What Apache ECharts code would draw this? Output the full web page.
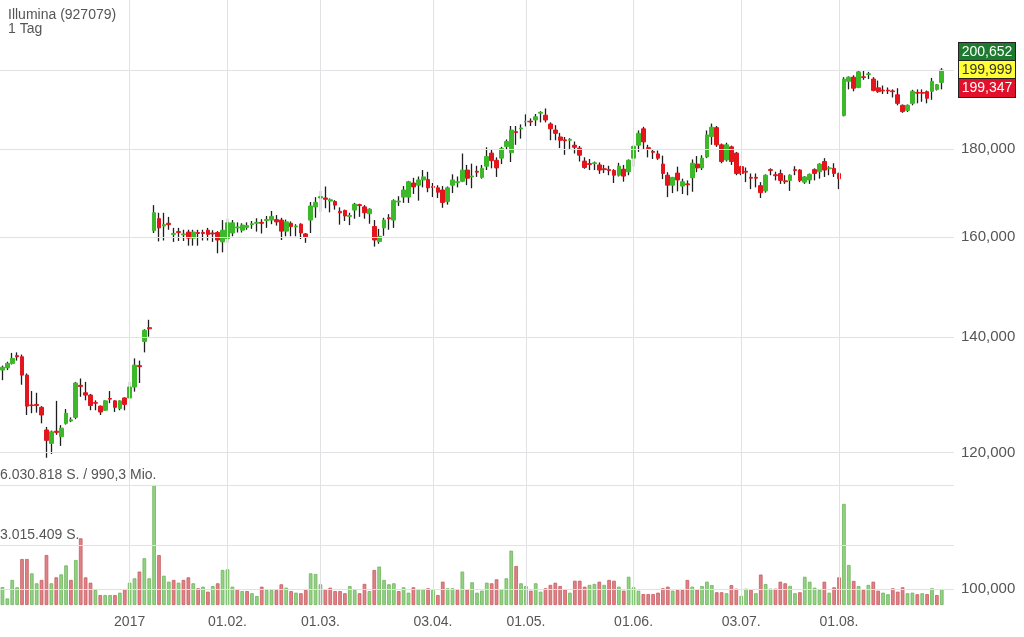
<!DOCTYPE html>
<html><head><meta charset="utf-8">
<script src="https://cdn.jsdelivr.net/npm/echarts/dist/echarts.min.js"></script>
<style>html,body{margin:0;padding:0;background:#fff}#c{width:1024px;height:637px}</style>
</head><body><div id="c"></div>
<script>
// ---- data ----
const titleText = 'Illumina (927079)';
const periodText = '1 Tag';
const openP = [134.0,134.4,135.2,136.6,136.4,133.1,127.9,128.0,127.5,123.7,121.5,123.5,122.6,124.8,125.2,125.8,131.3,130.0,129.6,128.3,127.7,127.0,129.0,128.6,127.3,129.1,129.1,131.0,134.8,139.2,141.8,
161.4,164.0,162.4,163.0,160.6,161.2,160.5,161.1,159.8,161.0,161.0,161.5,160.9,161.0,159.0,159.7,160.9,162.0,161.5,162.1,162.7,163.0,163.2,163.6,163.7,163.8,163.7,161.3,163.0,162.2,162.8,160.7,
163.7,166.6,168.6,168.6,167.9,167.8,165.6,165.8,164.5,165.9,167.1,166.6,165.1,162.3,159.1,162.0,164.2,163.7,167.7,168.8,168.8,172.0,171.5,172.7,172.8,171.2,170.9,170.4,167.8,171.5,172.1,172.4,175.0,173.4,174.7,
173.3,175.9,179.0,177.3,177.8,180.6,179.1,184.2,184.9,186.6,186.8,187.1,188.8,188.3,186.1,184.6,182.9,182.2,182.1,180.9,180.2,177.1,176.5,176.5,176.2,175.3,175.1,174.9,173.8,175.2,174.6,
177.8,180.9,184.9,180.3,179.4,178.8,176.4,173.8,171.5,174.3,171.3,171.8,173.2,176.4,175.5,178.1,183.0,185.2,181.0,177.4,180.5,179.0,175.8,174.7,173.3,173.3,171.4,170.2,175.1,173.9,174.2,172.5,172.6,175.1,175.0,172.2,172.7,175.1,174.6,177.0,175.3,175.4,174.2,
188.2,197.0,198.1,195.4,198.2,198.8,197.6,195.3,194.7,194.7,194.5,193.5,190.8,189.5,191.3,194.1,194.1,194.3,194.4,194.9,196.7];
const closeP = [134.5,135.2,136.1,136.4,133.1,127.7,127.8,127.8,126.2,122.0,123.4,123.3,124.0,126.5,125.4,131.7,131.1,129.6,127.8,128.2,126.7,128.6,128.9,127.5,128.6,128.0,131.0,134.9,134.6,141.3,141.6,
165.3,162.0,162.7,162.7,160.8,161.0,160.7,159.8,161.1,160.8,160.8,160.6,160.7,159.4,161.5,163.1,163.1,162.2,162.6,162.5,162.9,163.2,163.0,163.8,164.5,163.3,161.3,163.3,162.3,162.4,160.9,160.1,
166.8,167.6,168.9,168.3,168.2,167.0,165.3,164.6,164.7,167.2,166.9,165.3,166.1,159.4,160.2,163.7,164.0,168.0,167.9,170.4,172.3,171.1,172.7,173.4,170.9,171.0,169.9,167.6,170.9,172.7,172.3,175.0,173.1,173.6,174.5,
175.4,178.2,177.2,175.5,180.1,181.8,184.6,184.0,185.1,186.8,186.6,187.9,189.0,187.1,184.9,183.8,182.1,182.0,182.3,180.4,178.5,175.6,176.3,176.7,175.0,175.1,174.9,173.8,175.9,173.6,177.3,
180.6,183.8,181.7,180.1,179.2,177.8,174.2,171.5,173.3,172.7,172.3,171.6,176.6,175.5,177.8,183.4,185.3,181.0,177.0,181.0,177.0,174.2,174.2,174.5,173.1,173.1,169.8,173.8,174.9,173.7,172.6,172.3,173.8,174.9,172.6,173.4,174.0,174.2,176.4,175.0,175.5,174.2,173.0,
197.6,198.1,195.2,199.5,198.0,199.0,194.6,194.3,194.5,194.5,194.3,191.3,189.2,190.8,194.4,193.9,193.9,192.6,197.0,196.1,199.999];
const lowP = [132.2,134.0,135.0,135.7,131.4,126.2,126.5,126.6,124.8,119.2,119.8,122.9,121.1,124.6,125.0,125.5,129.3,128.7,127.0,127.0,126.2,126.9,128.2,126.7,127.0,127.0,129.0,130.2,131.7,137.2,140.1,
160.9,159.1,159.3,161.6,159.0,159.2,159.2,158.2,158.2,158.2,159.3,159.3,159.0,156.6,156.8,158.8,160.2,161.0,161.0,161.6,161.8,161.2,160.8,162.0,162.8,162.5,159.4,160.2,160.2,160.2,159.6,158.8,
160.9,164.2,165.5,166.3,165.4,166.0,162.7,163.5,162.6,164.0,164.4,164.0,162.9,158.0,158.6,160.3,161.6,162.0,166.8,167.5,167.5,169.5,168.0,171.0,169.9,168.8,168.6,166.4,167.1,169.7,171.0,172.2,171.5,170.8,173.4,
173.0,175.0,175.4,173.4,176.4,179.9,176.9,181.0,182.5,185.5,185.6,185.6,186.5,186.5,182.1,182.1,180.2,178.6,180.0,178.9,177.0,175.3,175.0,175.0,174.1,174.3,173.8,172.0,173.5,172.3,173.8,
175.8,179.3,180.0,178.0,177.6,177.4,172.9,168.8,169.7,170.1,169.5,169.2,170.0,174.5,175.0,177.8,181.0,180.5,176.6,177.0,176.2,173.8,173.8,172.2,170.6,171.0,168.6,169.8,173.8,172.6,171.8,171.8,170.2,173.8,172.2,171.8,171.8,172.6,173.0,173.4,173.8,173.4,170.6,
188.0,194.9,194.4,195.2,197.4,197.6,194.4,194.0,193.7,193.7,192.8,190.8,188.9,189.1,190.8,191.3,191.7,191.3,192.2,194.6,194.9];
const highP = [134.8,135.5,137.1,137.2,136.8,133.4,130.3,130.0,127.7,124.2,123.6,128.6,124.5,127.2,125.8,131.9,132.5,131.9,129.8,128.7,127.8,128.7,130.3,128.7,128.7,129.2,131.9,136.1,135.7,141.5,143.3,
167.0,165.3,165.3,164.4,162.0,162.0,161.6,161.6,161.6,161.6,161.6,162.0,161.5,161.3,163.7,164.0,163.7,163.2,163.0,163.2,163.5,164.1,163.9,164.6,165.7,164.8,164.2,163.8,163.4,162.8,163.0,160.9,
167.7,168.8,170.2,171.2,168.5,168.1,166.5,166.0,165.3,167.5,167.3,167.0,166.3,163.7,161.8,164.2,165.0,168.3,169.0,171.3,172.5,173.2,173.5,175.0,174.6,172.0,171.5,171.3,171.2,174.0,173.5,178.9,176.2,176.5,176.0,
176.2,180.4,179.9,178.0,180.5,182.3,185.6,185.6,186.0,188.5,187.5,188.6,189.3,190.0,186.5,185.8,183.9,182.9,182.6,181.8,180.7,178.0,177.6,177.0,176.8,176.2,176.0,175.2,176.7,176.2,177.5,
181.0,184.5,185.4,181.0,180.0,179.6,178.4,174.5,173.4,175.8,173.0,172.6,177.5,178.3,178.5,184.5,186.2,185.6,181.3,181.5,180.8,179.3,176.0,175.6,174.2,174.2,172.2,174.0,175.4,174.6,175.1,173.8,174.0,175.9,175.2,173.6,174.2,175.4,176.6,177.8,175.9,176.6,174.4,
198.1,198.3,198.6,199.9,199.8,199.5,198.1,197.2,195.9,195.4,194.9,195.2,191.0,191.0,194.8,194.9,194.9,194.6,197.9,196.3,200.5];
// volume in million shares
const volumeM = [0.9,0.33,1.26,0.89,2.31,2.31,1.59,1.09,1.26,2.51,1.09,1.39,1.54,1.99,1.26,2.26,3.35,1.39,1.12,0.75,0.50,0.50,0.50,0.50,0.62,0.80,1.12,1.34,1.68,2.35,1.34,
6.03,2.51,1.47,1.17,1.26,1.12,1.26,1.39,1.09,0.84,0.92,0.67,0.95,1.09,1.76,1.79,0.92,0.80,
0.70,0.70,0.59,0.45,0.92,0.75,0.75,0.75,1.04,0.87,0.70,0.62,0.59,0.75,1.59,1.56,1.04,0.80,0.87,0.70,0.70,0.59,0.95,0.75,0.59,1.06,0.70,1.76,1.93,1.26,1.04,1.09,0.70,0.89,0.62,0.89,0.79,0.79,0.84,0.75,0.50,1.17,0.84,0.84,0.75,1.68,0.79,1.14,0.62,
0.72,1.12,1.09,1.29,0.79,1.34,2.73,1.96,1.09,0.95,0.72,1.09,0.67,0.84,1.01,1.12,0.95,0.79,0.62,1.22,1.22,0.92,1.01,1.06,1.17,1.01,1.26,1.22,0.92,0.72,1.42,0.89,0.72,0.55,0.55,0.55,0.62,0.84,0.92,0.72,0.75,0.75,1.26,0.92,0.79,0.95,1.17,1.0,
0.64,0.64,0.59,1.0,0.82,0.46,0.82,0.76,0.59,1.53,1.05,0.82,0.82,1.17,1.09,0.96,0.59,
0.64,1.42,1.17,0.87,0.75,1.17,0.62,0.89,1.39,5.08,2.01,1.21,0.95,0.75,1.01,1.17,0.72,0.62,0.54,0.84,0.67,0.89,0.59,0.62,0.54,0.59,0.55,0.84,0.50,0.80];
const tickIndex = [26, 46, 65, 88, 107, 129, 151, 171];
const tickLabels = ['2017', '01.02.', '01.03.', '03.04.', '01.05.', '01.06.', '03.07.', '01.08.'];
const priceLines = [100, 120, 140, 160, 180, 200];
const volLines = [3.015409, 6.030818];
const volLineLabels = ['3.015.409 S.', '6.030.818 S. / 990,3 Mio.'];
const quoteAsk = 200.652;
const quoteBid = 199.347;
const emptySlots = 2;

// ---- chart ----
const GREEN = '#3db82a', RED = '#e3151d', WICK = '#1e1e1e';
const VGREEN = '#93d183', VGREEN_B = '#6db45c', VRED = '#df8286', VRED_B = '#c65c61';
const GRID = '#e1e1e6', TXT = '#555', FONT = '"Liberation Sans", Arial, sans-serif';
const n = closeP.length;
const cats = Array.from({length: n + emptySlots}, (_, i) => String(i));
const fmt = v => v.toFixed(3).replace('.', ',');
const lastClose = closeP[n - 1];

const wickData = openP.map((o, i) => { const m = (o + closeP[i]) / 2; return [m, m, lowP[i], highP[i]]; });
const bodyData = openP.map((o, i) => [o, closeP[i], Math.min(o, closeP[i]), Math.max(o, closeP[i])]);
const volData = volumeM.map((v, i) => {
  const up = i === 0 ? true : closeP[i] >= closeP[i - 1];
  return { value: v, itemStyle: { color: up ? VGREEN : VRED, borderColor: up ? VGREEN_B : VRED_B, borderWidth: 0.8 } };
});
const boxStyle = (bg, fg) => ({backgroundColor: bg, color: fg, width: 56, height: 18, lineHeight: 18, align: 'center',
  fontSize: 14, borderColor: '#222', borderWidth: 1, fontFamily: FONT});

const chart = echarts.init(document.getElementById('c'), null, {renderer: 'canvas'});
chart.setOption({
  animation: false,
  textStyle: {fontFamily: FONT},
  title: {
    text: titleText + '\n' + periodText, left: 3, top: 3,
    textStyle: {fontSize: 14, fontWeight: 'normal', color: TXT, lineHeight: 14, fontFamily: FONT}
  },
  grid: [
    {left: -2, right: 70, top: 0, bottom: 32},
    {left: -2, right: 70, top: 485, bottom: 32}
  ],
  xAxis: [
    {type: 'category', gridIndex: 0, data: cats, boundaryGap: true,
      axisLine: {show: false}, axisTick: {show: false}, splitLine: {show: false},
      axisLabel: {interval: (idx) => tickIndex.includes(idx), formatter: (v, idx) => tickLabels[tickIndex.indexOf(+v)] || '',
        color: TXT, fontSize: 14, margin: 10, fontFamily: FONT}},
    {type: 'category', gridIndex: 1, data: cats, boundaryGap: true, show: false}
  ],
  yAxis: [
    {type: 'log', logBase: 10, gridIndex: 0, min: 97.93, max: 219.59, show: false, splitLine: {show: false}},
    {type: 'value', gridIndex: 1, min: 0, max: volLines[1], show: false, splitLine: {show: false}}
  ],
  series: [
    {
      name: 'Volumen', type: 'bar', xAxisIndex: 1, yAxisIndex: 1, data: volData, barWidth: 3.6, silent: true,
      markLine: {
        silent: true, symbol: ['none', 'none'],
        lineStyle: {color: GRID, width: 1, type: 'solid'},
        data: volLines.map((v, k) => ({yAxis: v,
          label: {show: true, position: 'insideStartTop', formatter: volLineLabels[k], color: TXT, fontSize: 14, fontFamily: FONT, distance: [0, 3]}}))
      }
    },
    {
      name: 'Docht', type: 'candlestick', xAxisIndex: 0, yAxisIndex: 0, data: wickData, barWidth: 1, silent: true,
      itemStyle: {color: WICK, color0: WICK, borderColor: WICK, borderColor0: WICK, borderWidth: 1.3},
      markLine: {
        silent: true, symbol: ['none', 'none'],
        lineStyle: {color: GRID, width: 1, type: 'solid'},
        data: priceLines.map(v => ({yAxis: v,
          label: {show: v !== 200, position: 'end', formatter: fmt(v), color: TXT, fontSize: 15, fontFamily: FONT, distance: 7}}))
          .concat(tickIndex.map(i => ({xAxis: i, label: {show: false}})))
      }
    },
    {
      name: 'Kurs', type: 'candlestick', xAxisIndex: 0, yAxisIndex: 0, data: bodyData, barWidth: 4.2, silent: true,
      itemStyle: {color: GREEN, color0: RED, borderColor: GREEN, borderColor0: RED, borderWidth: 1},
      markLine: {
        silent: true, symbol: ['none', 'none'],
        lineStyle: {color: 'rgba(0,0,0,0)', width: 0},
        data: [{yAxis: lastClose, label: {show: true, position: 'end', distance: 5,
          formatter: '{a|' + fmt(quoteAsk) + '}\n{b|' + fmt(lastClose) + '}\n{c|' + fmt(quoteBid) + '}',
          rich: {a: boxStyle('#1d7a2e', '#fff'), b: boxStyle('#ffff33', '#333'), c: boxStyle('#e2102b', '#fff')}}}]
      }
    }
  ]
});
</script></body></html>
